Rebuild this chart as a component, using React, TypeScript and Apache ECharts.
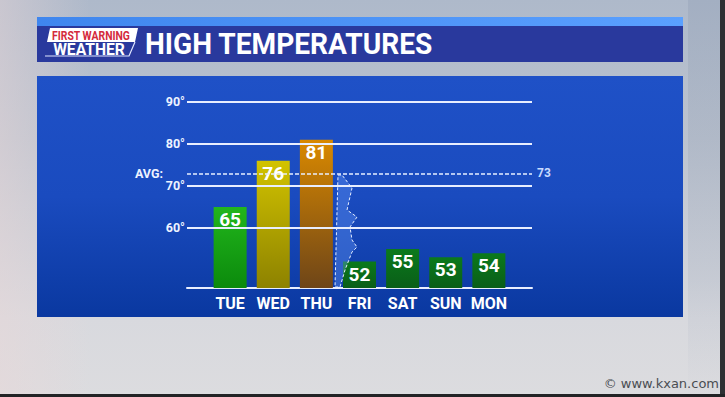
import React, { useEffect, useRef } from "react";
import * as echarts from "echarts";

const days = ["TUE", "WED", "THU", "FRI", "SAT", "SUN", "MON"];
const highs = [65, 76, 81, 52, 55, 53, 54];
const gridTicks = [60, 70, 80, 90];
const avgHigh = 73;
const barTop = ["#22b61c", "#d2c300", "#d98900", "#0b7a1c", "#0b7a1c", "#0b7a1c", "#0b7a1c"];
const barBottom = ["#0b8a0c", "#8d8200", "#6e4518", "#0a5e18", "#0a5e18", "#0a5e18", "#0a5e18"];

const FONT = "Roboto, 'Noto Sans', sans-serif";

export default function App() {
  const ref = useRef<HTMLDivElement>(null);
  useEffect(() => {
    if (!ref.current) return;
    const chart = echarts.init(ref.current, null, { renderer: "svg" });
    const cats = ["", ...days, ""];
    const barData = [
      null,
      ...highs.map((v, i) => ({
        value: v,
        itemStyle: {
          color: new echarts.graphic.LinearGradient(0, 0, 0, 1, [
            { offset: 0, color: barTop[i] },
            { offset: 1, color: barBottom[i] },
          ]),
        },
      })),
      null,
    ];
    const lineLabel = { color: "#eef3ff", fontFamily: FONT, fontWeight: "bold", fontSize: 12.5 };
    const markData: any[] = gridTicks.map((t) => ({
      yAxis: t,
      label: { ...lineLabel, position: "start", distance: 2, formatter: `${t}°` },
      lineStyle: { color: "#e8eeff", width: 2, type: "solid" },
    }));
    markData.push({
      yAxis: avgHigh,
      label: { ...lineLabel, position: "start", distance: 24, formatter: "AVG:" },
      lineStyle: { color: "#e8eeff", width: 1.5, type: [4, 2] },
    });
    markData.push({
      yAxis: avgHigh,
      label: { ...lineLabel, fontSize: 12, color: "#c9dbff", position: "end", distance: 5, formatter: `${avgHigh}` },
      lineStyle: { color: "rgba(0,0,0,0)", width: 0 },
    });

    const option: any = {
      animation: false,
      grid: { left: 187, right: 193, top: 60, bottom: 109 },
      xAxis: {
        type: "category",
        data: cats,
        boundaryGap: false,
        axisLine: { show: true, lineStyle: { color: "#e8eeff", width: 2 } },
        axisTick: { show: false },
        axisLabel: {
          color: "#ffffff",
          fontFamily: FONT,
          fontWeight: "bold",
          fontSize: 16,
          margin: 7,
          interval: 0,
        },
        splitLine: { show: false },
      },
      yAxis: {
        type: "value",
        min: 45.7,
        max: 100,
        show: false,
        splitLine: { show: false },
      },
      graphic: [
        // background
        {
          type: "rect",
          z: -10,
          shape: { x: 0, y: 0, width: 725, height: 397 },
          style: {
            fill: new echarts.graphic.LinearGradient(0, 0, 0, 1, [
              { offset: 0, color: "#aeb9ca" },
              { offset: 0.35, color: "#bcc3cf" },
              { offset: 0.8, color: "#d8d9de" },
              { offset: 1, color: "#dcdcdf" },
            ]),
          },
        },
        {
          type: "rect",
          z: -9,
          shape: { x: 0, y: 0, width: 90, height: 397 },
          style: {
            fill: new echarts.graphic.LinearGradient(0, 0, 1, 0, [
              { offset: 0, color: "rgba(235,215,215,0.45)" },
              { offset: 1, color: "rgba(235,215,215,0)" },
            ]),
          },
        },
        {
          type: "rect",
          z: -9,
          shape: { x: 688, y: 0, width: 32, height: 397 },
          style: {
            fill: new echarts.graphic.LinearGradient(0, 0, 0, 1, [
              { offset: 0, color: "rgba(130,145,170,0.25)" },
              { offset: 0.7, color: "rgba(130,145,170,0.15)" },
              { offset: 1, color: "rgba(130,145,170,0)" },
            ]),
          },
        },
        { type: "rect", z: -8, shape: { x: 720, y: 0, width: 5, height: 397 }, style: { fill: "#2e3033" } },
        { type: "rect", z: -8, shape: { x: 0, y: 394, width: 725, height: 3 }, style: { fill: "#222325" } },
        // title bar
        {
          type: "rect",
          z: -7,
          shape: { x: 37, y: 17, width: 646, height: 10 },
          style: {
            fill: new echarts.graphic.LinearGradient(0, 0, 1, 0, [
              { offset: 0, color: "#3f86ee" },
              { offset: 1, color: "#5aa0ff" },
            ]),
          },
        },
        { type: "rect", z: -7, shape: { x: 37, y: 26, width: 646, height: 36 }, style: { fill: "#29399d" } },
        // panel
        {
          type: "rect",
          z: -7,
          shape: { x: 37, y: 76, width: 646, height: 241 },
          style: {
            fill: new echarts.graphic.LinearGradient(0, 0, 0, 1, [
              { offset: 0, color: "#1f51c7" },
              { offset: 0.5, color: "#1a4bbf" },
              { offset: 1, color: "#0a38a0" },
            ]),
          },
        },
        // logo
        {
          type: "polygon",
          z: -6,
          shape: { points: [[50, 28], [138, 28], [135, 42], [47, 42]] },
          style: { fill: "#ffffff" },
        },
        {
          type: "polyline",
          z: -6,
          shape: { points: [[135, 42], [129, 56], [45, 56]] },
          style: { stroke: "#dfe6ff", lineWidth: 1.2, fill: "none" },
        },
        {
          type: "text",
          z: -5,
          x: 91,
          y: 35.5,
          scaleX: 0.8,
          style: {
            text: "FIRST WARNING",
            fill: "#d42a3c",
            font: `bold 13px ${FONT}`,
            align: "center",
            verticalAlign: "middle",
          },
        },
        {
          type: "text",
          z: -5,
          x: 89,
          y: 49.5,
          scaleX: 0.98,
          style: {
            text: "WEATHER",
            fill: "#ffffff",
            font: `bold 16px ${FONT}`,
            align: "center",
            verticalAlign: "middle",
          },
        },
        {
          type: "text",
          z: -5,
          x: 145,
          y: 44,
          scaleX: 0.97,
          style: {
            text: "HIGH TEMPERATURES",
            fill: "#ffffff",
            font: `bold 29px ${FONT}`,
            align: "left",
            verticalAlign: "middle",
          },
        },
        // cold front decoration
        {
          type: "polygon",
          z: 5,
          shape: {
            points: [
              [338, 175], [342, 175], [352, 188], [347, 210], [357, 217], [350, 227],
              [352, 240], [357, 247], [352, 252], [345, 270], [340, 287], [335, 287],
            ],
          },
          style: { fill: "rgba(110,160,255,0.35)", stroke: "#e6eeff", lineWidth: 1, lineDash: [3, 2] },
        },
        {
          type: "text",
          z: -5,
          x: 719,
          y: 383,
          style: {
            text: "© www.kxan.com",
            fill: "#4a4d52",
            font: `13px 'DejaVu Sans', ${FONT}`,
            align: "right",
            verticalAlign: "middle",
          },
        },
      ],
      series: [
        {
          type: "line",
          z: 1,
          data: cats.map(() => null),
          symbol: "none",
          silent: true,
          markLine: {
            silent: true,
            symbol: ["none", "none"],
            data: markData,
          },
        },
        {
          type: "bar",
          z: 3,
          data: barData,
          barWidth: 33,
          silent: true,
          label: {
            show: true,
            position: "insideTop",
            distance: 3,
            color: "#ffffff",
            fontFamily: FONT,
            fontWeight: "bold",
            fontSize: 19,
          },
        },
      ],
    };
    chart.setOption(option);
    return () => chart.dispose();
  }, []);
  return <div ref={ref} style={{ position: "absolute", left: 0, top: 0, width: 725, height: 397 }} />;
}
